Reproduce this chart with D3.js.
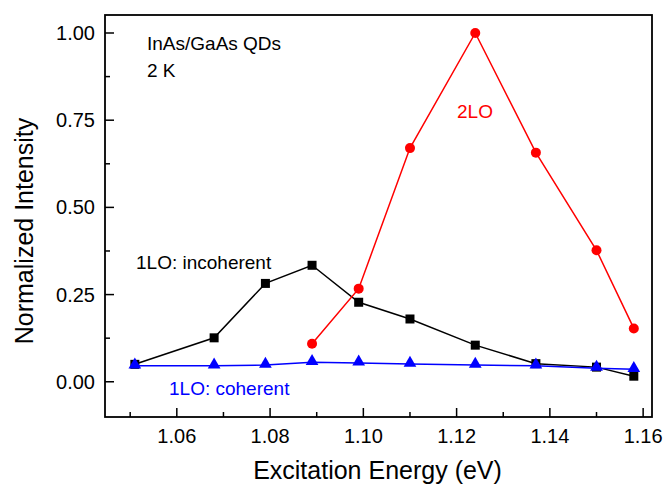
<!DOCTYPE html>
<html>
<head>
<meta charset="utf-8">
<script src="https://d3js.org/d3.v7.min.js"></script>
<style>
    body { margin: 0; background: white; font-family: Arial, "Liberation Sans", sans-serif; }
</style>
</head>
<body>
<script>
    // values
    var energy = [1.051, 1.068, 1.079, 1.089, 1.099, 1.110, 1.124, 1.137, 1.150, 1.158];
    var incoherent = [0.050, 0.126, 0.282, 0.334, 0.228, 0.180, 0.105, 0.052, 0.042, 0.016];
    var coherent = [0.046, 0.046, 0.048, 0.056, 0.054, 0.051, 0.048, 0.046, 0.039, 0.036];
    var twoLOenergy = [1.089, 1.099, 1.110, 1.124, 1.137, 1.150, 1.158];
    var twoLO = [0.109, 0.267, 0.670, 1.000, 0.657, 0.377, 0.153];
    var yTicks = [0, 0.25, 0.5, 0.75, 1.0];
    var xTicks = [1.06, 1.08, 1.10, 1.12, 1.14, 1.16];

    var width = 667, height = 487;
    // plot frame (window.top is read-only, so no "top" here)
    var pL = 105, pR = 652, pT = 15, pB = 417;

    var svg = d3.select("body").append("svg")
        .attr("width", width)
        .attr("height", height);

    var x = d3.scaleLinear().domain([1.0446, 1.1619]).range([pL, pR]);
    var y = d3.scaleLinear().domain([-0.101, 1.0516]).range([pB, pT]);

    // minor ticks
    var xMinor = [1.05, 1.07, 1.09, 1.11, 1.13, 1.15];
    var yMinor = [0.125, 0.375, 0.625, 0.875];

    var ax = svg.append("g").attr("stroke", "#000").attr("stroke-width", 1.5);

    ax.selectAll(".xmaj").data(xTicks).enter().append("line")
        .attr("x1", function(d) { return x(d); }).attr("x2", function(d) { return x(d); })
        .attr("y1", pB).attr("y2", pB - 9);
    ax.selectAll(".xmin").data(xMinor).enter().append("line")
        .attr("x1", function(d) { return x(d); }).attr("x2", function(d) { return x(d); })
        .attr("y1", pB).attr("y2", pB - 5);
    ax.selectAll(".ymaj").data(yTicks).enter().append("line")
        .attr("y1", function(d) { return y(d); }).attr("y2", function(d) { return y(d); })
        .attr("x1", pL).attr("x2", pL + 9);
    ax.selectAll(".ymin").data(yMinor).enter().append("line")
        .attr("y1", function(d) { return y(d); }).attr("y2", function(d) { return y(d); })
        .attr("x1", pL).attr("x2", pL + 5);

    svg.append("rect")
        .attr("x", pL).attr("y", pT)
        .attr("width", pR - pL).attr("height", pB - pT)
        .attr("fill", "none").attr("stroke", "#000").attr("stroke-width", 1.8);

    // tick labels
    svg.selectAll(".xl").data(xTicks).enter().append("text")
        .attr("x", function(d) { return x(d); })
        .attr("y", 443)
        .attr("text-anchor", "middle")
        .attr("font-size", "20px")
        .text(function(d) { return d3.format(".2f")(d); });
    svg.selectAll(".yl").data(yTicks).enter().append("text")
        .attr("x", 95)
        .attr("y", function(d) { return y(d) + 7; })
        .attr("text-anchor", "end")
        .attr("font-size", "20px")
        .text(function(d) { return d3.format(".2f")(d); });

    // axis titles
    svg.append("text")
        .attr("x", (pL + pR) / 2 - 1).attr("y", 479)
        .attr("text-anchor", "middle").attr("font-size", "25px")
        .text("Excitation Energy (eV)");
    svg.append("text")
        .attr("transform", "translate(33,231) rotate(-90)")
        .attr("text-anchor", "middle").attr("font-size", "25px")
        .text("Normalized Intensity");

    var line = d3.line()
        .x(function(d) { return x(d[0]); })
        .y(function(d) { return y(d[1]); });

    // 1LO incoherent (black squares)
    var blk = d3.zip(energy, incoherent);
    svg.append("path").datum(blk).attr("d", line)
        .attr("fill", "none").attr("stroke", "#000").attr("stroke-width", 1.5);
    svg.selectAll(".sq").data(blk).enter().append("rect")
        .attr("x", function(d) { return x(d[0]) - 4.5; })
        .attr("y", function(d) { return y(d[1]) - 4.5; })
        .attr("width", 9).attr("height", 9).attr("fill", "#000");

    // 2LO (red circles)
    var red = d3.zip(twoLOenergy, twoLO);
    svg.append("path").datum(red).attr("d", line)
        .attr("fill", "none").attr("stroke", "#ff0000").attr("stroke-width", 1.5);
    svg.selectAll(".ci").data(red).enter().append("circle")
        .attr("cx", function(d) { return x(d[0]); })
        .attr("cy", function(d) { return y(d[1]); })
        .attr("r", 5).attr("fill", "#ff0000");

    // 1LO coherent (blue triangles)
    var blu = d3.zip(energy, coherent);
    svg.append("path").datum(blu).attr("d", line)
        .attr("fill", "none").attr("stroke", "#0000ff").attr("stroke-width", 1.5);
    var tri = d3.symbol().type(d3.symbolTriangle).size(70);
    svg.selectAll(".tr").data(blu).enter().append("path")
        .attr("d", tri)
        .attr("transform", function(d) { return "translate(" + x(d[0]) + "," + (y(d[1]) - 1) + ")"; })
        .attr("fill", "#0000ff");

    // annotations
    svg.append("text").attr("x", 147).attr("y", 50).attr("font-size", "19px").text("InAs/GaAs QDs");
    svg.append("text").attr("x", 147).attr("y", 77).attr("font-size", "19px").text("2 K");
    svg.append("text").attr("x", 136).attr("y", 269).attr("font-size", "19px").text("1LO: incoherent");
    svg.append("text").attr("x", 457).attr("y", 118).attr("font-size", "19px").attr("fill", "#ff0000").text("2LO");
    svg.append("text").attr("x", 169).attr("y", 395).attr("font-size", "19px").attr("fill", "#0000ff").text("1LO: coherent");
</script>
</body>
</html>
